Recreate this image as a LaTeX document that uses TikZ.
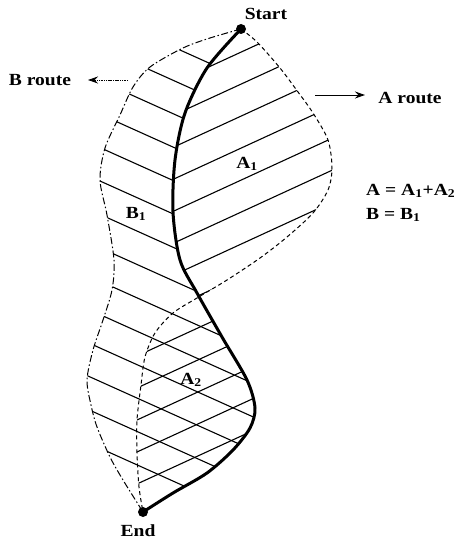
\documentclass[tikz,border=0pt]{standalone}
\usepackage{fontspec}
\setmainfont{Liberation Serif}[FakeStretch=1.15]
\usetikzlibrary{arrows.meta}
\begin{document}
\begin{tikzpicture}[x=1pt,y=-1pt,
  lbl/.style={font=\bfseries\fontsize{17}{19}\selectfont, inner sep=0pt},
  dot/.style={circle, fill=black, inner sep=0pt, minimum size=10pt},
  route/.style={line width=3pt, line cap=round},
  aroute/.style={line width=1pt, dash pattern=on 4pt off 3pt},
  broute/.style={line width=1pt, dash pattern=on 7pt off 2.5pt on 1.5pt off 2.5pt},
  hatch/.style={line width=1.1pt},
  pointer/.style={line width=1pt, -{Stealth[length=10pt,width=7pt]}}
]
\useasboundingbox (0,0) rectangle (460,543);

% B region hatching (\ lines)
\begin{scope}
  \clip plot[smooth] coordinates {(241,29) (210,38) (183,48) (150,67) (133,87) (120,115) (105,148) (100,180) (107,215) (114,260) (112,290) (103,320) (93,350) (87,380) (91,405) (97,427) (110,457) (123,480) (143,512)}
     -- plot[smooth] coordinates {(143,512) (173,493) (207,473) (233,450) (250,428) (255,408) (247,380) (222,337) (197,293) (180,260) (173,212) (175,160) (185,113) (207,68) (241,29)} -- cycle;
  \foreach \k in {0,...,13} {
    \draw[hatch] (60,{0.45*60-31+33.4*\k}) -- (290,{0.45*290-31+33.4*\k});
  }
\end{scope}

% A region hatching (/ lines)
\begin{scope}
  \clip plot[smooth] coordinates {(241,29) (257,42) (280,68) (298,92) (313,113) (328,140) (332,168) (328,190) (313,213) (287,237) (260,258) (227,280) (197,298) (173,313) (155,333) (145,357) (141,385) (137,420) (137,453) (139,487) (143,512)}
     -- plot[smooth] coordinates {(143,512) (173,493) (207,473) (233,450) (250,428) (255,408) (247,380) (222,337) (197,293) (180,260) (173,212) (175,160) (185,113) (207,68) (241,29)} -- cycle;
  \foreach \k in {0,...,12} {
    \draw[hatch] (100,{-0.46*100+163+32*\k}) -- (360,{-0.46*360+163+32*\k});
  }
\end{scope}

% boundaries
\draw[broute] plot[smooth] coordinates {(241,29) (210,38) (183,48) (150,67) (133,87) (120,115) (105,148) (100,180) (107,215) (114,260) (112,290) (103,320) (93,350) (87,380) (91,405) (97,427) (110,457) (123,480) (143,512)};
\draw[aroute] plot[smooth] coordinates {(241,29) (257,42) (280,68) (298,92) (313,113) (328,140) (332,168) (328,190) (313,213) (287,237) (260,258) (227,280) (197,298) (173,313) (155,333) (145,357) (141,385) (137,420) (137,453) (139,487) (143,512)};
\draw[route] plot[smooth] coordinates {(241,29) (207,68) (185,113) (175,160) (173,212) (180,260) (197,293) (222,337) (247,380) (255,408) (250,428) (233,450) (207,473) (173,493) (143,512)};

% start / end
\node[dot] (start) at (241,29) {};
\node[dot] (end) at (143,512) {};
\node[lbl] (startlbl) at (266,14) {Start};
\node[lbl] (endlbl) at (138,531) {End};

% route labels and arrows
\node[lbl] (blbl) at (40,80) {B route};
\node[lbl] (albl) at (410,98) {A route};
\coordinate (btail) at (128,80);
\coordinate (bhead) at (88,80);
\coordinate (atail) at (315,95);
\coordinate (ahead) at (365,95);
\draw[pointer, line width=0.8pt, dash pattern=on 1.5pt off 0.8pt] (btail) -- (bhead);
\draw[pointer] (atail) -- (ahead);

% region labels
\node[lbl] (a1) at (247,164) {A\textsubscript{1}};
\node[lbl] (b1) at (136,214) {B\textsubscript{1}};
\node[lbl] (a2) at (191,380) {A\textsubscript{2}};

% equations
\node[lbl, anchor=west] (eqa) at (366,191) {A = A\textsubscript{1}+A\textsubscript{2}};
\node[lbl, anchor=west] (eqb) at (366,215) {B = B\textsubscript{1}};
\end{tikzpicture}
\end{document}
